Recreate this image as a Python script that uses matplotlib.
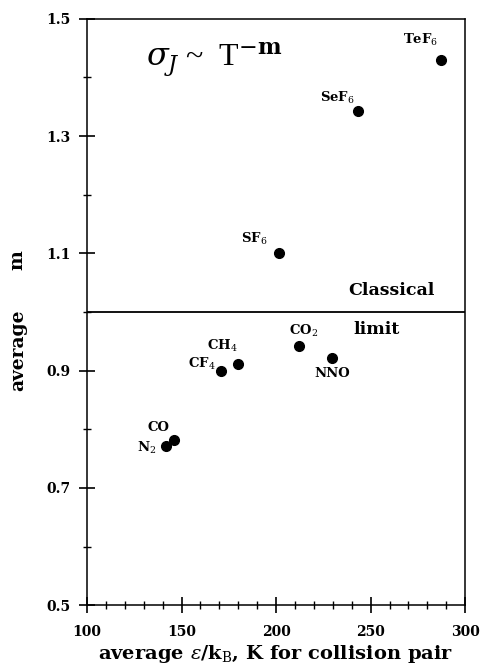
import numpy as np
import matplotlib.pyplot as plt
from matplotlib.ticker import MultipleLocator

# data
molecules = ["TeF$_6$", "SeF$_6$", "SF$_6$", "CO$_2$", "NNO", "CH$_4$", "CF$_4$", "CO", "N$_2$"]
eps_k = [287.5, 243.4, 201.4, 212.2, 229.8, 179.9, 171.1, 145.9, 142.0]
m_avg = [1.430, 1.342, 1.101, 0.942, 0.921, 0.911, 0.900, 0.782, 0.771]
# label offsets (points) relative to each point
lab_dx = [-15, -15, -18, 3, 0, -11, -14, -11, -14]
lab_dy = [14, 10, 10, 11, -11, 13, 5, 9, -1]

classical_limit = 1.0

plt.rcParams['mathtext.fontset'] = 'dejavuserif'
bold = dict(family='DejaVu Serif', weight='bold')

fig = plt.figure(figsize=(4.81, 6.71), dpi=100)
ax = fig.add_axes([0.181, 0.098, 0.786, 0.874])

ax.plot(eps_k, m_avg, 'o', color='black', markersize=7)
for name, x, y, dx, dy in zip(molecules, eps_k, m_avg, lab_dx, lab_dy):
    ax.annotate(name, (x, y), xytext=(dx, dy), textcoords='offset points',
                ha='center', va='center', fontsize=9.5, **bold)

ax.axhline(classical_limit, color='black', lw=1.3)
ax.text(261, 1.037, "Classical", ha='center', va='center', fontsize=12.5, **bold)
ax.text(253, 0.971, "limit", ha='center', va='center', fontsize=12.5, **bold)

ax.text(131, 1.43, r"$\sigma_J$ ~  T$^{-\mathbf{m}}$", ha='left', va='center',
        fontsize=23, family='Liberation Serif')

ax.set_xlim(100, 300)
ax.set_ylim(0.5, 1.5)
ax.xaxis.set_major_locator(MultipleLocator(50))
ax.xaxis.set_minor_locator(MultipleLocator(10))
ax.yaxis.set_major_locator(MultipleLocator(0.2))
ax.yaxis.set_minor_locator(MultipleLocator(0.1))
ax.set_yticks([0.5, 0.7, 0.9, 1.1, 1.3, 1.5])
ax.tick_params(which='major', direction='inout', length=12, width=1.2, labelsize=10)
ax.tick_params(which='minor', direction='inout', length=6, width=1.0)
ax.tick_params(axis='x', which='major', pad=8)
ax.tick_params(axis='y', which='major', pad=6)
ax.tick_params(top=False, right=False, which='both')
for lab in ax.get_xticklabels() + ax.get_yticklabels():
    lab.set_fontfamily('DejaVu Serif')
    lab.set_fontweight('bold')
for s in ax.spines.values():
    s.set_linewidth(1.1)

ax.set_xlabel(r"average $\epsilon$/k$_\mathrm{B}$, K for collision pair",
              fontsize=14, labelpad=3, **bold)
fig.text(0.037, 0.478, "average", rotation=90, ha='center', va='center', fontsize=13.5, **bold)
fig.text(0.037, 0.613, "m", rotation=90, ha='center', va='center', fontsize=13.5, **bold)

fig.savefig("out.png", dpi=100)
